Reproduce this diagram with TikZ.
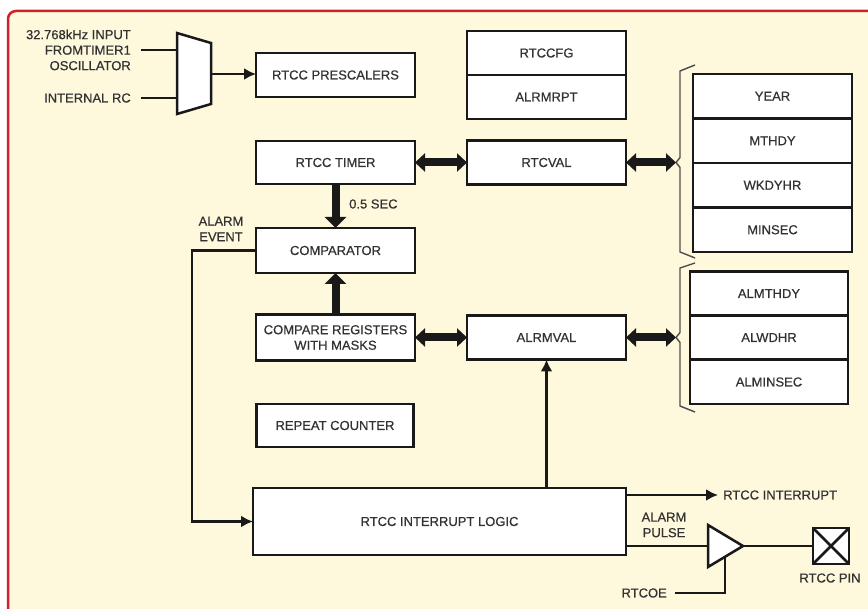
\documentclass[tikz,border=0pt]{standalone}
\usepackage{fontspec}
\setmainfont{Liberation Sans}[FakeBold=0.5]
\usetikzlibrary{arrows.meta,calc}
\definecolor{bgc}{RGB}{254,249,220}
\definecolor{framec}{RGB}{208,32,42}
\definecolor{txt}{RGB}{50,50,50}
\definecolor{ln}{RGB}{25,25,25}
\begin{document}
\begin{tikzpicture}[x=1pt,y=-1pt,
  every node/.style={font=\fontsize{13}{15.5}\selectfont, text=txt},
  blk/.style={draw=ln, line width=2.5pt, fill=white, minimum width=159pt, minimum height=44pt, inner sep=0pt, outer sep=0pt, align=center},
  wire/.style={draw=ln, line width=2.5pt},
  arr/.style={wire, -{Latex[length=12pt,width=12pt]}},
  fat/.style={draw=ln, line width=8pt, -{Triangle[length=11pt,width=21pt]}},
  fatd/.style={draw=ln, line width=8pt, {Triangle[length=10pt,width=18pt]}-{Triangle[length=10pt,width=18pt]}},
  brc/.style={draw=black!70, line width=1.4pt, line join=round},
  lbl/.style={inner sep=0pt, align=center}
]
\clip (0,0) rectangle (868,609);
\fill[white] (0,0) rectangle (868,609);
\draw[framec, line width=2.5pt, fill=bgc, rounded corners=8pt] (8,11) rectangle (880,625);

% mux
\coordinate (m1) at (177,50);
\coordinate (m2) at (177,98);
\coordinate (mo) at (211,74);
\draw[wire, fill=white, line join=miter] (177,33) -- (211,43) -- (211,104) -- (177,114) -- cycle;
\node[lbl, align=right, anchor=east] (inlab) at (131,50) {32.768kHz INPUT\\FROMTIMER1\\OSCILLATOR};
\node[lbl, anchor=east] (irc) at (131,98) {INTERNAL RC};
\draw[wire] ([xshift=10pt]inlab.east |- m1) -- (m1);
\draw[wire] ([xshift=10pt]irc.east) -- (m2);

% blocks
\node[blk] (presc) at (335.5,75) {RTCC PRESCALERS};
\node[blk, minimum height=43pt] (timer) at (335.5,162.5) {RTCC TIMER};
\node[blk] (cfg) at (546.5,53) {RTCCFG};
\node[blk] (rpt) at (546.5,97) {ALRMRPT};
\node[blk] (rtcval) at (546.5,162.5) {RTCVAL};
\node[blk, minimum height=44.5pt] (year) at (772.5,96.25) {YEAR};
\node[blk, minimum height=44.5pt] (mthdy) at (772.5,140.75) {MTHDY};
\node[blk, minimum height=44.5pt] (wkdy) at (772.5,185.25) {WKDYHR};
\node[blk, minimum height=44.5pt] (minsec) at (772.5,229.75) {MINSEC};
\node[blk, minimum width=158pt] (almthdy) at (769,293.5) {ALMTHDY};
\node[blk, minimum width=158pt] (alwdhr) at (769,337.5) {ALWDHR};
\node[blk, minimum width=158pt] (alminsec) at (769,382) {ALMINSEC};
\node[blk, minimum height=45pt] (comp) at (335.5,250.5) {COMPARATOR};
\node[blk, minimum height=46pt] (regs) at (335.5,337.5) {COMPARE REGISTERS\\WITH MASKS};
\node[blk] (alrmval) at (546.5,337.5) {ALRMVAL};
\node[blk, minimum width=157pt, minimum height=43pt] (rep) at (335,425.5) {REPEAT COUNTER};
\node[blk, minimum width=373pt, minimum height=67pt] (intl) at (439.5,521.5) {RTCC INTERRUPT LOGIC};

% braces
\coordinate (b1) at (676,162.5);
\coordinate (b2) at (676,337.5);
\draw[brc] (695,65) -- (680,71) -- (680,157.5) -- (b1) -- (680,167.5) -- (680,252) -- (695,258);
\draw[brc] (695,263) -- (680,268) -- (680,332.5) -- (b2) -- (680,342.5) -- (680,406) -- (695,412);

% connectors
\draw[arr] (mo) -- (mo -| presc.west);
\draw[fatd] (timer.east) -- (rtcval.west);
\draw[fatd] (rtcval.east) -- (b1);
\draw[fat] (timer.south) -- (comp.north);
\node[lbl, anchor=west] (half) at (349,204) {0.5 SEC};
\draw[fat] (regs.north) -- (comp.south);
\draw[fatd] (regs.east) -- (alrmval.west);
\draw[fatd] (alrmval.east) -- (b2);

\node[lbl] (aev) at (221,229) {ALARM\\EVENT};
\draw[arr] (comp.west) -- ++(-64,0) |- (intl.west);
\draw[arr] (intl.north -| alrmval.south) -- (alrmval.south);

\coordinate (ri) at (626,495);
\node[lbl, anchor=west] (rint) at (723,495) {RTCC INTERRUPT};
\draw[arr] (ri) -- ([xshift=-5pt]rint.west);

\node[lbl] (apl) at (664,525) {ALARM\\PULSE};
\coordinate (ap) at (626,546);
\coordinate (bl) at (708,546);
\coordinate (bt) at (743,546);
\coordinate (oe) at (725,557.5);
\draw[wire] (ap) -- (bl);
\draw[wire, fill=white, line join=miter] (708,525) -- (bt) -- (708,567) -- cycle;
\node[draw=ln, line width=2.5pt, fill=white, minimum size=36pt, inner sep=0pt, outer sep=0pt] (pin) at (831,546) {};
\draw[wire] (pin.north west) -- (pin.south east) (pin.north east) -- (pin.south west);
\draw[wire] (bt) -- (pin.west);
\node[lbl] (pinl) at (830,578) {RTCC PIN};
\node[lbl, anchor=east] (rtcoe) at (667,593) {RTCOE};
\draw[wire] ([xshift=8pt]rtcoe.east) -| (oe);
\end{tikzpicture}
\end{document}
